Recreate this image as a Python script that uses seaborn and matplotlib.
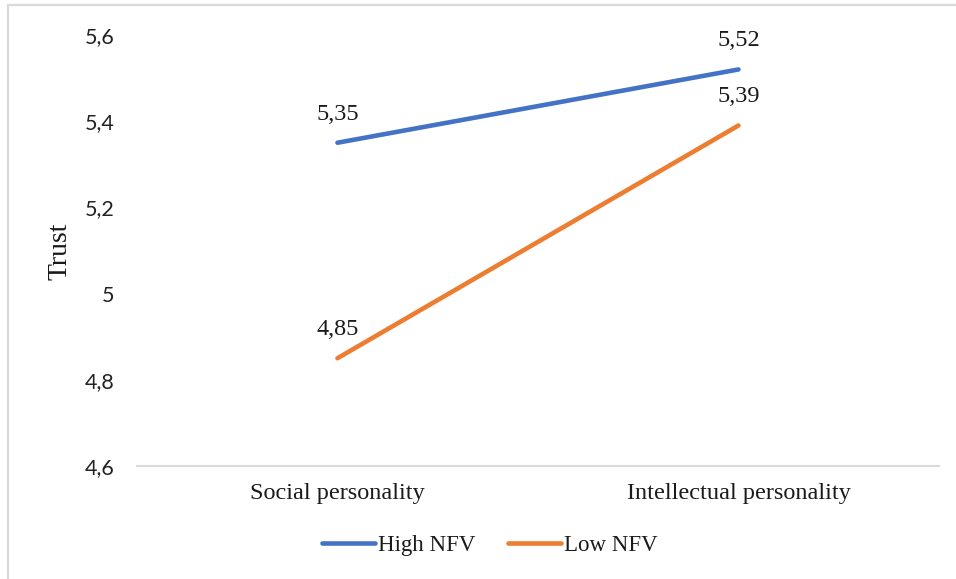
import matplotlib
matplotlib.use("Agg")
import matplotlib.pyplot as plt
from matplotlib.lines import Line2D
from matplotlib.ticker import FuncFormatter, MultipleLocator
import pandas as pd
import seaborn as sns

categories = ["Social personality", "Intellectual personality"]
high_nfv = [5.35, 5.52]
low_nfv = [4.85, 5.39]
series_names = ["High NFV", "Low NFV"]
colors = ["#4472C4", "#ED7D31"]

df = pd.DataFrame({
    "Personality": categories * 2,
    "Trust": high_nfv + low_nfv,
    "Group": [series_names[0]] * 2 + [series_names[1]] * 2,
})

sns.set_theme(style="white")
serif = ["Liberation Serif", "DejaVu Serif"]
sans = ["Lato", "DejaVu Sans"]

fig = plt.figure(figsize=(9.56, 5.79), dpi=100)
ax = fig.add_axes([0.1433, 0.1952, 0.8389, 0.7444])

sns.lineplot(data=df, x="Personality", y="Trust", hue="Group",
             palette=colors, linewidth=3.3, sort=False, ax=ax,
             legend=False, solid_capstyle="round")

# value labels above each point
for vals in (high_nfv, low_nfv):
    for i, v in enumerate(vals):
        ax.annotate(f"{v:.2f}".replace(".", ","), (i, v),
                    xytext=(0, 23), textcoords="offset pixels",
                    ha="center", va="baseline", fontsize=17.5,
                    family=serif, color="#1a1a1a")

ax.set_xlim(-0.5, 1.5)
ax.set_ylim(4.6, 5.6)
ax.yaxis.set_major_locator(MultipleLocator(0.2))
ax.yaxis.set_major_formatter(FuncFormatter(lambda v, p: f"{v:g}".replace(".", ",")))

for s in ("top", "right", "left"):
    ax.spines[s].set_visible(False)
ax.spines["bottom"].set_color("#d9d9d9")
ax.spines["bottom"].set_linewidth(1.5)

ax.tick_params(axis="both", length=0)
ax.tick_params(axis="y", pad=16)
ax.tick_params(axis="x", pad=12)
for lab in ax.get_yticklabels():
    lab.set_family(sans)
    lab.set_fontsize(15.5)
    lab.set_color("#222222")
for lab in ax.get_xticklabels():
    lab.set_family(serif)
    lab.set_fontsize(17.5)
    lab.set_color("#1a1a1a")

ax.set_xlabel("")
ax.set_ylabel("")
fig.text(60 / 956, 1 - 251 / 579, "Trust", rotation=90, ha="center",
         va="center", fontsize=20, family=serif, color="#1a1a1a")

handles = [Line2D([0], [0], color=c, lw=3.3, solid_capstyle="round") for c in colors]
fig.legend(handles, series_names, loc="center", bbox_to_anchor=(490 / 956, 1 - 545 / 579),
           ncol=2, frameon=False, prop={"family": serif, "size": 16.5},
           handlelength=2.3, handletextpad=0.15, columnspacing=1.4,
           labelcolor="#1a1a1a")

# light frame along the top and left edges
fig.add_artist(Line2D([7.5 / 956, 1.0], [1 - 4.5 / 579, 1 - 4.5 / 579],
                      transform=fig.transFigure, color="#d9d9d9", lw=1.6))
fig.add_artist(Line2D([7.5 / 956, 7.5 / 956], [0.0, 1 - 4.5 / 579],
                      transform=fig.transFigure, color="#d9d9d9", lw=1.6))

fig.savefig("out.png", dpi=100, facecolor="white")
